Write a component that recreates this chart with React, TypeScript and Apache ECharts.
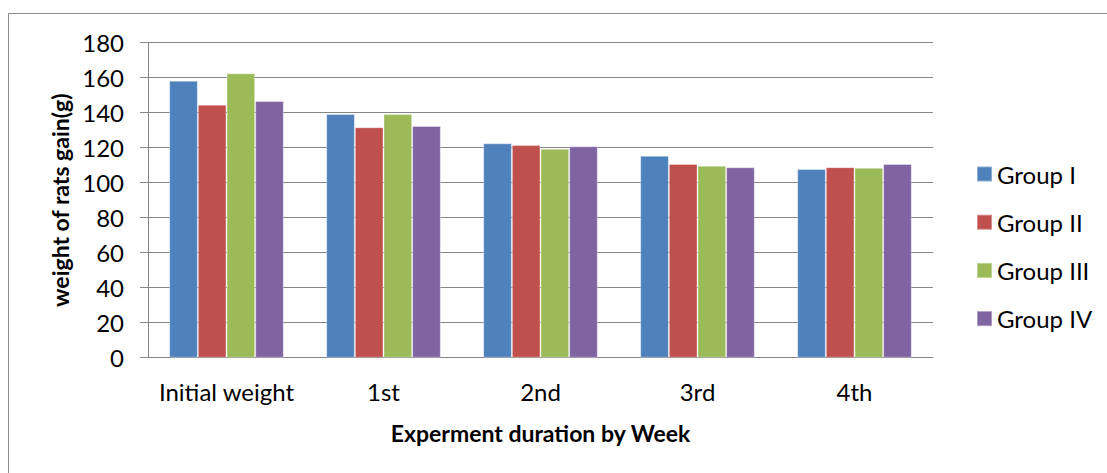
import React, { useEffect, useRef } from "react";
import * as echarts from "echarts";

const categories = ["Initial weight", "1st", "2nd", "3rd", "4th"];
const groupI = [158.3, 139.3, 122.5, 115.4, 107.8];
const groupII = [144.6, 131.7, 121.5, 110.7, 108.9];
const groupIII = [162.5, 139.2, 119.4, 109.7, 108.5];
const groupIV = [146.7, 132.4, 120.8, 108.8, 110.7];
const seriesNames = ["Group I", "Group II", "Group III", "Group IV"];
const colors = ["#4F81BD", "#C0504D", "#9BBB59", "#8064A2"];

const FONT = "Lato, 'Noto Sans', sans-serif";

export default function App() {
  const ref = useRef<HTMLDivElement>(null);
  useEffect(() => {
    if (!ref.current) return;
    const chart = echarts.init(ref.current, undefined, { renderer: "svg" });
    const data = [groupI, groupII, groupIII, groupIV];
    chart.setOption({
      animation: false,
      backgroundColor: "#ffffff",
      textStyle: { fontFamily: FONT },
      graphic: [
        {
          type: "rect",
          shape: { x: 8.5, y: 13.5, width: 1300, height: 700 },
          style: { fill: "none", stroke: "#898989", lineWidth: 1 },
          silent: true,
        },
      ],
      grid: { left: 148, right: 174, top: 42.7, bottom: 115.3, containLabel: false },
      legend: {
        orient: "vertical",
        left: 971,
        top: 157,
        padding: 5,
        itemWidth: 15,
        itemHeight: 15,
        itemGap: 24.2,
        icon: "rect",
        textStyle: { fontFamily: FONT, fontSize: 24, color: "#000" },
        data: seriesNames,
      },
      xAxis: {
        type: "category",
        data: categories,
        axisLine: { show: true, lineStyle: { color: "#868686", width: 1 } },
        axisTick: { show: false },
        axisLabel: { fontFamily: FONT, fontSize: 24, color: "#000", margin: 22, interval: 0 },
        name: "Experment duration by Week",
        nameLocation: "middle",
        nameGap: 64,
        nameTextStyle: { fontFamily: FONT, fontSize: 23, fontWeight: "bold", color: "#000" },
      },
      yAxis: {
        type: "value",
        min: 0,
        max: 180,
        interval: 20,
        axisLine: { show: true, lineStyle: { color: "#868686", width: 1 } },
        axisTick: { show: true, length: 8, lineStyle: { color: "#868686" } },
        axisLabel: { fontFamily: FONT, fontSize: 24, color: "#000", margin: 24 },
        splitLine: { show: true, lineStyle: { color: "#868686", width: 1 } },
        name: "weight of rats gain(g)",
        nameLocation: "middle",
        nameGap: 66,
        nameTextStyle: { fontFamily: FONT, fontSize: 23, fontWeight: "bold", color: "#000" },
      },
      series: seriesNames.map((name, i) => ({
        name,
        type: "bar",
        data: data[i],
        barGap: "0%",
        barCategoryGap: "27%",
        itemStyle: { color: colors[i], borderColor: "rgba(255,255,255,0.35)", borderWidth: 1 },
      })),
    });
    return () => chart.dispose();
  }, []);
  return (
    <div
      ref={ref}
      style={{ position: "fixed", left: 0, top: 0, width: 1107, height: 473 }}
    />
  );
}
